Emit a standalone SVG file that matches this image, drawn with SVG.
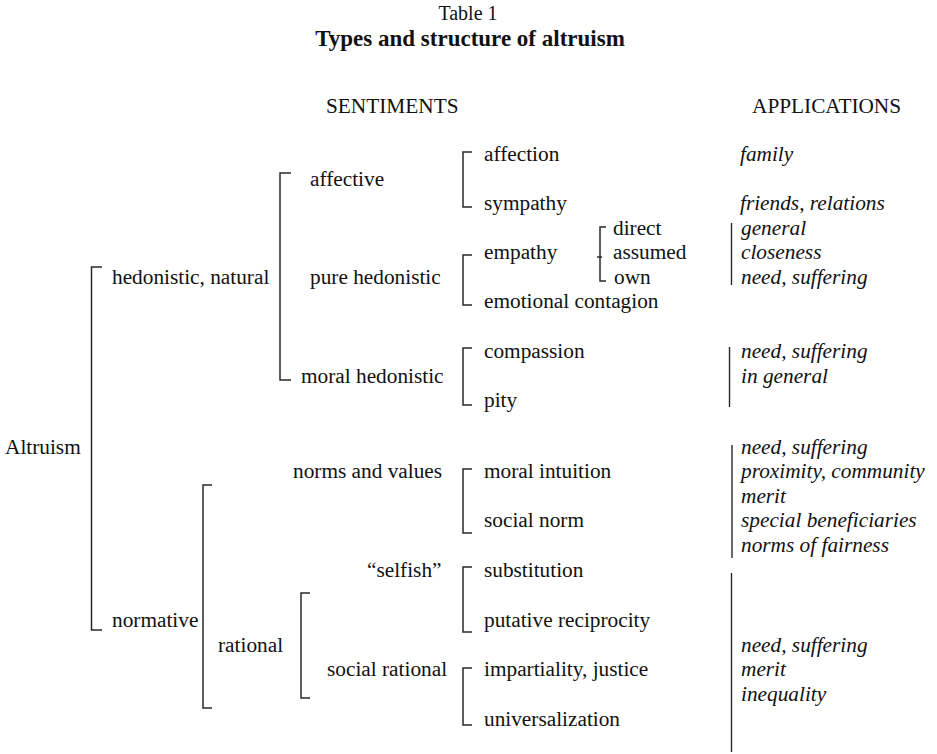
<svg xmlns="http://www.w3.org/2000/svg" width="937" height="754" viewBox="0 0 937 754">
  <style>
    text { font-family: "Liberation Serif", Tinos, "Times New Roman", Times, "Nimbus Roman", "DejaVu Serif", serif; font-size: 21.3px; fill: #111; }
    .title { font-size: 20px; text-anchor: middle; }
    .heading { font-size: 23px; font-weight: bold; text-anchor: middle; }
    .app { font-style: italic; }
    .br { fill: none; stroke: #2a2a2a; stroke-width: 1.5; }
    .bar { fill: none; stroke: #2a2a2a; stroke-width: 1.4; }
  </style>
  <rect width="937" height="754" fill="#ffffff"/>

  <!-- caption -->
  <g id="caption">
    <text class="title" x="468" y="20">Table 1</text>
    <text class="heading" x="470" y="46">Types and structure of altruism</text>
  </g>

  <!-- column headings -->
  <g id="headings">
    <text x="326" y="113">SENTIMENTS</text>
    <text x="752" y="113">APPLICATIONS</text>
  </g>

  <!-- bracket connectors -->
  <g id="connectors">
    <path class="br" d="M102,267 H91.5 V630 H102"/>
    <path class="br" d="M291,173 H280 V380 H291"/>
    <path class="br" d="M212,485 H203 V708 H212"/>
    <path class="br" d="M310,593 H301 V698 H310"/>
    <path class="br" d="M472,152 H463 V207 H472"/>
    <path class="br" d="M472,255 H463 V305 H472"/>
    <path class="br" d="M472,348 H463 V405 H472"/>
    <path class="br" d="M472,469 H463 V533 H472"/>
    <path class="br" d="M472,567 H463 V632 H472"/>
    <path class="br" d="M472,668 H463 V725 H472"/>
    <path class="br" d="M606,227 H600 V281 H606"/>
    <path class="br" d="M597,257 H602"/>
    <!-- application group bars -->
    <path class="bar" d="M731.5,223 V285"/>
    <path class="bar" d="M729.5,347 V407"/>
    <path class="bar" d="M732,445 V558"/>
    <path class="bar" d="M731.5,573 V752"/>
  </g>

  <!-- root -->
  <g id="altruism"><text x="5" y="454">Altruism</text></g>

  <!-- second level -->
  <g id="hedonistic-natural"><text x="112" y="284">hedonistic, natural</text></g>
  <g id="normative"><text x="112" y="627">normative</text></g>

  <!-- third level -->
  <g id="affective"><text x="310" y="186">affective</text></g>
  <g id="pure-hedonistic"><text x="310" y="284">pure hedonistic</text></g>
  <g id="moral-hedonistic"><text x="301" y="383">moral hedonistic</text></g>
  <g id="norms-and-values"><text x="293" y="478">norms and values</text></g>
  <g id="rational"><text x="218" y="652">rational</text></g>
  <g id="selfish"><text x="367" y="577">“selfish”</text></g>
  <g id="social-rational"><text x="327" y="676">social rational</text></g>

  <!-- sentiments -->
  <g id="affection"><text x="484" y="161">affection</text></g>
  <g id="sympathy"><text x="484" y="210">sympathy</text></g>
  <g id="empathy"><text x="484" y="259">empathy</text></g>
  <g id="direct"><text x="613" y="235">direct</text></g>
  <g id="assumed"><text x="613" y="259">assumed</text></g>
  <g id="own"><text x="614" y="284">own</text></g>
  <g id="emotional-contagion"><text x="484" y="308">emotional contagion</text></g>
  <g id="compassion"><text x="484" y="358">compassion</text></g>
  <g id="pity"><text x="484" y="407">pity</text></g>
  <g id="moral-intuition"><text x="484" y="478">moral intuition</text></g>
  <g id="social-norm"><text x="484" y="527">social norm</text></g>
  <g id="substitution"><text x="484" y="577">substitution</text></g>
  <g id="putative-reciprocity"><text x="484" y="627">putative reciprocity</text></g>
  <g id="impartiality-justice"><text x="484" y="676">impartiality, justice</text></g>
  <g id="universalization"><text x="484" y="726">universalization</text></g>

  <!-- applications -->
  <g id="applications">
    <text class="app" x="740" y="161">family</text>
    <text class="app" x="740" y="210">friends, relations</text>
    <text class="app" x="741" y="235">general</text>
    <text class="app" x="741" y="259">closeness</text>
    <text class="app" x="741" y="284">need, suffering</text>
    <text class="app" x="741" y="358">need, suffering</text>
    <text class="app" x="741" y="383">in general</text>
    <text class="app" x="741" y="454">need, suffering</text>
    <text class="app" x="741" y="478">proximity, community</text>
    <text class="app" x="741" y="503">merit</text>
    <text class="app" x="741" y="527">special beneficiaries</text>
    <text class="app" x="741" y="552">norms of fairness</text>
    <text class="app" x="741" y="652">need, suffering</text>
    <text class="app" x="741" y="676">merit</text>
    <text class="app" x="741" y="701">inequality</text>
  </g>
</svg>
